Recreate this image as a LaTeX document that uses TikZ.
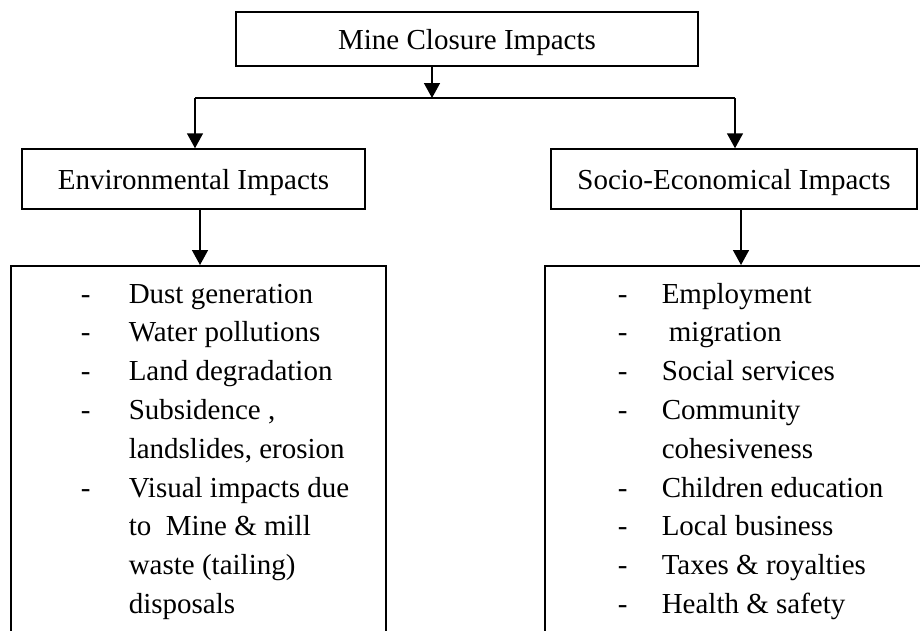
\documentclass[tikz,border=0pt]{standalone}
\usepackage{fontspec}
\setmainfont{Liberation Serif}
\usetikzlibrary{arrows.meta}
\begin{document}
\begin{tikzpicture}[x=1pt,y=-1pt,line width=1.5pt,
  txt/.style={font=\fontsize{29}{38.8}\selectfont},
  box/.style={draw,rectangle,inner sep=0pt,txt,text height=22pt,text depth=1pt},
  listbox/.style={draw,rectangle,inner sep=0pt,anchor=north west},
  arr/.style={-{Triangle[width=16pt,length=15pt]}},
  item/.style={anchor=base west,inner sep=0pt,txt}]
\useasboundingbox (0,0) rectangle (920,630);
\clip (0,0) rectangle (920,630);
\fill[white] (0,0) rectangle (920,630);
% boxes
\node[box,minimum width=462pt,minimum height=54pt] (top) at (467,39) {Mine Closure Impacts};
\node[box,minimum width=343pt,minimum height=60pt] (env) at (193.5,179) {Environmental Impacts};
\node[box,minimum width=366pt,minimum height=60pt] (soc) at (734,179) {Socio-Economical Impacts};
\node[listbox,minimum width=375pt,minimum height=500pt] (envlist) at (10,265) {};
\node[listbox,minimum width=420pt,minimum height=500pt] (soclist) at (544,265) {};
% connectors
\coordinate (j) at (432,98);
\coordinate (jl) at (195,98);
\coordinate (jr) at (735,98);
\coordinate (el) at (200,0);
\coordinate (sl) at (741,0);
\draw[arr] (top.south -| j) -- (j);
\draw (jl) -- (jr);
\draw[arr] (jl) -- (jl |- env.north);
\draw[arr] (jr) -- (jr |- soc.north);
\draw[arr] (env.south -| el) -- (envlist.north -| el);
\draw[arr] (soc.south -| sl) -- (soclist.north -| sl);
% left list
\foreach \t [count=\i] in {Dust generation, Water pollutions, Land degradation, {Subsidence ,}, {landslides, erosion}, Visual impacts due, to~ Mine \& mill, waste (tailing), disposals}
  \node[item] (el\i) at (128,{303+38.8*(\i-1)}) {\t};
\foreach \i in {1,2,3,4,6}
  \node[item] (ed\i) at (80,{303+38.8*(\i-1)}) {-};
% right list
\foreach \t [count=\i] in {Employment, \hspace*{7pt}migration, Social services, Community, cohesiveness, Children education, Local business, Taxes \& royalties, Health \& safety}
  \node[item] (sl\i) at (661,{303+38.8*(\i-1)}) {\t};
\foreach \i in {1,2,3,4,6,7,8,9}
  \node[item] (sd\i) at (617,{303+38.8*(\i-1)}) {-};
\end{tikzpicture}
\end{document}
